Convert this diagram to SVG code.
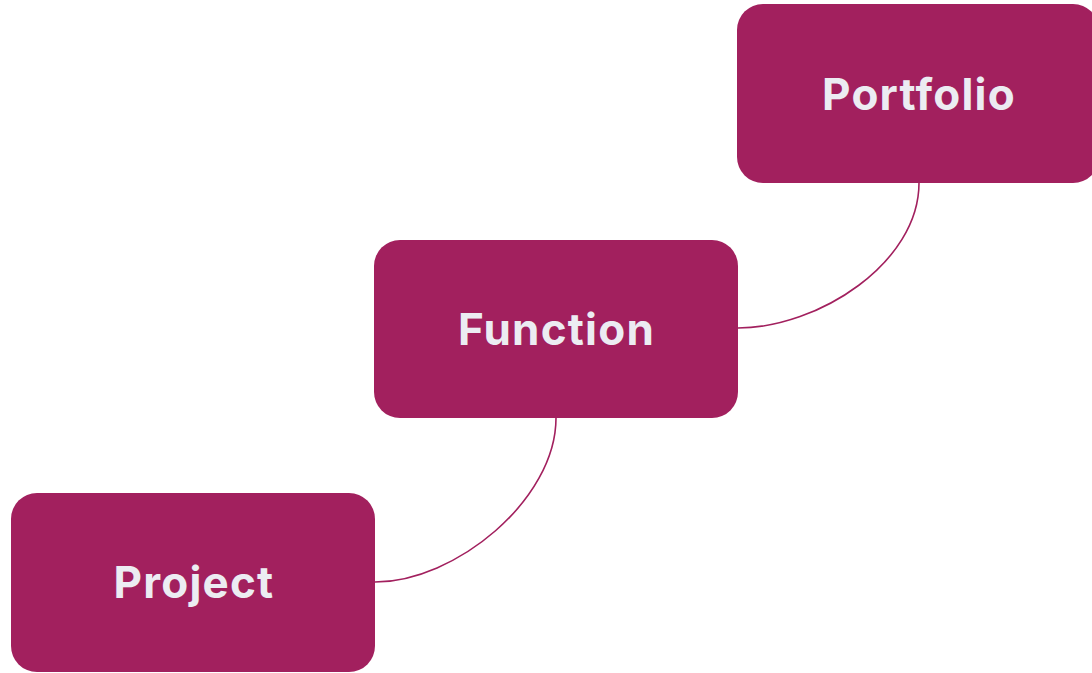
<svg xmlns="http://www.w3.org/2000/svg" width="1092" height="673" viewBox="0 0 1092 673">
<style>
.box{fill:#a2205e}
.lbl{fill:#ececf2;font-family:Inter,"Open Sans","Liberation Sans",sans-serif;font-weight:700;font-size:44px;letter-spacing:1.2px;text-anchor:middle}
.edge{fill:none;stroke:#a2205e;stroke-width:1.6}
</style>
<rect width="1092" height="673" fill="#ffffff"/>
<g id="connectors">
<path class="edge" d="M919,183 C919,263 818,328 738,328"/>
<path class="edge" d="M556,418 C556,500 455,582 375,582"/>
</g>
<g id="portfolio">
<rect class="box" x="737" y="4" width="362" height="179" rx="26"/>
<text class="lbl" x="919" y="110">Portfolio</text>
</g>
<g id="function">
<rect class="box" x="374" y="240" width="364" height="178" rx="26"/>
<text class="lbl" x="556.5" y="345">Function</text>
</g>
<g id="project">
<rect class="box" x="11" y="493" width="364" height="179" rx="26"/>
<text class="lbl" x="194" y="598">Project</text>
</g>
</svg>
